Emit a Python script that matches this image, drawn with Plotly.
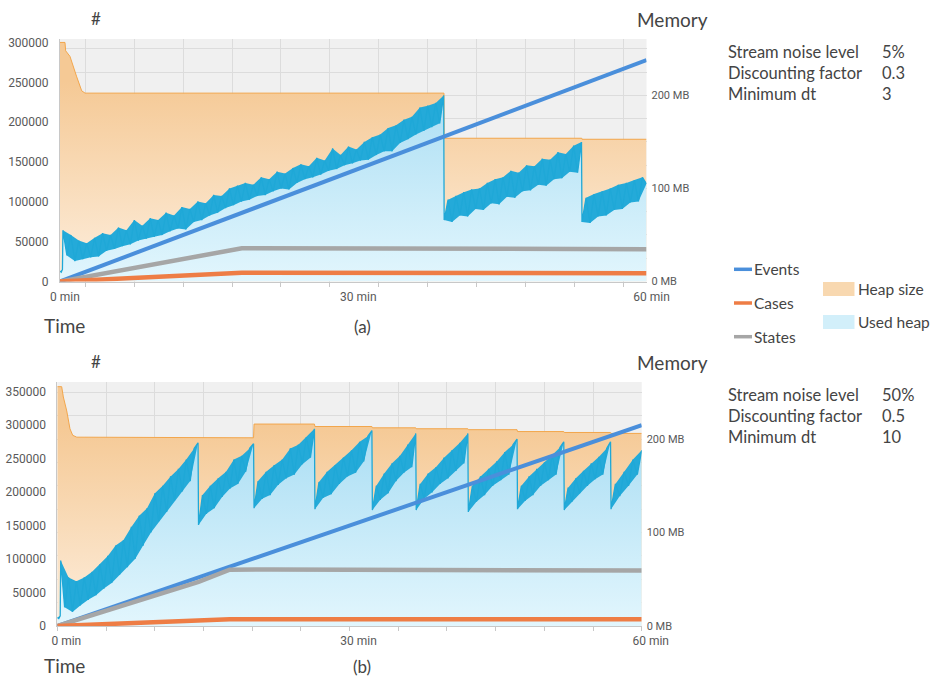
import numpy as np
import plotly.graph_objects as go

W, H = 933, 678

# ---------------- panel (a) data ----------------
a_count_t = [0, 18.6, 60]
a_states = [0, 41700, 40600]
a_cases = [0, 11000, 10300]
a_events_t = [0, 60]
a_events = [0, 278000]
a_heap_t = [0, 0.51, 0.58, 1.02, 1.71, 2.22, 2.56, 39.28, 39.3, 53.38, 53.4, 60]
a_heap_mb = [257, 257, 248, 242, 220, 205, 202.5, 202.5, 154, 154, 152.9, 152.9]
a_used_bounds = [(0, 0.25), (0.3, 39.25), (39.3, 53.35), (53.4, 60)]
a_used_mb = [
    [11, 10, 13],
    [55, 28, 50, 22, 44, 24, 41, 26, 47, 27,
     52, 33, 50, 35, 58, 38, 55, 40, 66, 44,
     60, 46, 68, 48, 66, 50, 74, 54, 71, 57,
     80, 56, 78, 64, 86, 66, 84, 71, 93, 74,
     92, 79, 100, 82, 103, 86, 106, 88, 104, 92,
     112, 93, 110, 97, 118, 100, 116, 99, 122, 106,
     126, 110, 124, 112, 133, 115, 130, 119, 143, 121,
     136, 125, 145, 127, 142, 130, 150, 131, 155, 136,
     158, 140, 165, 140, 168, 149, 174, 153, 177, 158,
     187, 162, 189, 166, 192, 170, 200],
    [66, 88, 64, 92, 71, 96, 70, 99, 78, 100, 77, 106, 84, 110, 83, 112, 91, 119,
     90, 117, 97, 125, 98, 124, 104, 132, 103, 131, 110, 139, 111, 137, 118, 146, 117, 150],
    [64, 90, 63, 94, 70, 97, 71, 100, 77, 104, 78, 106, 85, 109, 86, 112, 105],
]
a_params = [("Stream noise level", "5%"), ("Discounting factor", "0.3"), ("Minimum dt", "3")]

# ---------------- panel (b) data ----------------
b_count_t = [0, 14.5, 17.7, 22, 60]
b_states = [0, 66000, 84000, 84500, 82800]
b_cases = [0, 7500, 10000, 10000, 10000]
b_events_t = [0, 60]
b_events = [0, 300000]
b_heap_t = [0, 0.45, 0.62, 0.97, 1.3, 1.58, 2.0, 14.45, 14.5, 20.15, 20.2, 26.4, 26.45,
            32.3, 32.35, 36.8, 36.85, 42.15, 42.2, 47.2, 47.25, 52.0, 52.05, 56.8, 56.85, 60]
b_heap_mb = [256, 256, 245, 230, 211, 204, 202, 202, 201.3, 201.3, 216, 216, 213.4,
             213.4, 212, 212, 211, 211, 210, 210, 208, 208, 207, 207, 206, 206]
b_used_bounds = [(0, 0.3), (0.35, 14.45), (14.5, 20.15), (20.2, 26.4), (26.45, 32.3),
                 (32.35, 36.8), (36.85, 42.15), (42.2, 47.2), (47.25, 52.0),
                 (52.05, 56.8), (56.85, 60)]
b_used_mb = [
    [9, 8, 11],
    [70, 20, 52, 15, 48, 22, 52, 28, 58, 33, 66, 40, 75, 46, 86, 55, 92, 63,
     106, 72, 118, 86, 126, 100, 142, 112, 150, 122, 160, 134, 168, 144, 178, 155, 190, 196],
    [108, 140, 120, 150, 126, 158, 138, 165, 147, 178, 152, 182, 165, 190, 195],
    [126, 155, 136, 165, 140, 172, 151, 178, 158, 190, 162, 194, 173, 202, 180, 211],
    [125, 154, 137, 165, 141, 172, 152, 180, 160, 188, 164, 197, 176, 203, 209],
    [124, 150, 135, 163, 142, 174, 155, 182, 164, 194, 170, 206],
    [124, 152, 136, 163, 143, 170, 152, 180, 158, 188, 166, 196, 174, 206],
    [122, 150, 133, 160, 140, 168, 150, 176, 156, 186, 162, 194, 200],
    [125, 150, 134, 160, 140, 168, 150, 175, 156, 183, 162, 191, 197],
    [124, 148, 133, 158, 142, 166, 150, 174, 157, 181, 162, 190, 197],
    [125, 152, 139, 165, 150, 178, 162, 188],
]
b_params = [("Stream noise level", "50%"), ("Discounting factor", "0.5"), ("Minimum dt", "10")]

# ---------------- tick labels ----------------
time_ticks = [0, 30, 60]
time_labels = ["0 min", "30 min", "60 min"]
mem_ticks = list(range(0, 251, 25))
mem_labels = {0: "0 MB", 100: "100 MB", 200: "200 MB"}
a_count_ticks = [0, 50000, 100000, 150000, 200000, 250000, 300000]
b_count_ticks = [0, 50000, 100000, 150000, 200000, 250000, 300000, 350000]

C_EVENTS = "#4a8fdb"
C_CASES = "#ee7d45"
C_STATES = "#a6a6a6"
C_USED = "#1fa8d7"
C_BAND = "#24aad9"
C_HEAP = "#f2a64c"
TXT = "#444444"
AXTXT = "#595959"
GRID = "#dcdcdc"
AXLINE = "#c8c8c8"


def px(x):
    return x / W


def py(y):
    return 1 - y / H


fig = go.Figure()


def add_panel(xa, ya_mem, ya_cnt, heap_t, heap_mb, used_b, used_v,
              ev_t, ev, cnt_t, states, cases):
    fig.add_trace(go.Scatter(
        x=heap_t, y=heap_mb, xaxis=xa, yaxis=ya_mem, mode="lines",
        line=dict(color=C_HEAP, width=1), fill="tozeroy",
        fillgradient=dict(type="vertical", start=0, stop=215,
                          colorscale=[[0, "#fdeedd"], [1, "#f5c995"]]),
        hoverinfo="skip", showlegend=False))
    ut, uv = [], []
    for (t0, t1), seg in zip(used_b, used_v):
        ut.extend(np.linspace(t0, t1, len(seg)).tolist())
        uv.extend(seg)
    fig.add_trace(go.Scatter(
        x=ut, y=uv, xaxis=xa, yaxis=ya_mem, mode="lines",
        line=dict(color=C_USED, width=0), fill="tozeroy",
        fillgradient=dict(type="vertical", start=0, stop=200,
                          colorscale=[[0, "#e2f6fd"], [1, "#addff4"]]),
        hoverinfo="skip", showlegend=False))
    for (t0, t1), seg in zip(used_b, used_v):
        tt = np.linspace(t0, t1, len(seg))
        ev_i = list(range(0, len(seg), 2))
        od_i = list(range(1, len(seg), 2))
        bx = [tt[i] for i in ev_i] + [tt[i] for i in od_i[::-1]]
        by = [seg[i] for i in ev_i] + [seg[i] for i in od_i[::-1]]
        fig.add_trace(go.Scatter(
            x=bx, y=by, xaxis=xa, yaxis=ya_mem, mode="lines", fill="toself",
            fillcolor=C_BAND, line=dict(width=0), hoverinfo="skip", showlegend=False))
    fig.add_trace(go.Scatter(
        x=ut, y=uv, xaxis=xa, yaxis=ya_mem, mode="lines",
        line=dict(color=C_USED, width=1.3), hoverinfo="skip", showlegend=False))
    fig.add_trace(go.Scatter(x=ev_t, y=ev, xaxis=xa, yaxis=ya_cnt, mode="lines",
                             line=dict(color=C_EVENTS, width=4), showlegend=False))
    fig.add_trace(go.Scatter(x=cnt_t, y=states, xaxis=xa, yaxis=ya_cnt, mode="lines",
                             line=dict(color=C_STATES, width=4.5), showlegend=False))
    fig.add_trace(go.Scatter(x=cnt_t, y=cases, xaxis=xa, yaxis=ya_cnt, mode="lines",
                             line=dict(color=C_CASES, width=4.5), showlegend=False))


add_panel("x", "y", "y2", a_heap_t, a_heap_mb, a_used_bounds, a_used_mb,
          a_events_t, a_events, a_count_t, a_states, a_cases)
add_panel("x2", "y3", "y4", b_heap_t, b_heap_mb, b_used_bounds, b_used_mb,
          b_events_t, b_events, b_count_t, b_states, b_cases)


def xaxis_def(x0, x1, anchor, grid0, shift):
    return dict(domain=[px(x0), px(x1)], range=[0, 60], anchor=anchor, automargin=False,
                tickmode="array", tickvals=time_ticks, ticktext=time_labels,
                showgrid=False, zeroline=False, showline=True, linecolor=AXLINE,
                ticks="", tickfont=dict(family="Roboto", size=12, color=AXTXT),
                ticklabelshift=shift, ticklabelstandoff=4,
                minor=dict(tick0=grid0, dtick=5, showgrid=True, gridcolor=GRID,
                           gridwidth=1, ticks="outside", ticklen=4, tickcolor=AXLINE))


def mem_axis(y0, y1, anchor, top):
    return dict(domain=[py(y1), py(y0)], range=[0, top], anchor=anchor, side="right",
                automargin=False, tickmode="array", tickvals=mem_ticks,
                ticktext=[mem_labels.get(v, "") for v in mem_ticks],
                showgrid=True, gridcolor=GRID, gridwidth=1, zeroline=False,
                showline=False, ticks="", ticklabelstandoff=4,
                tickfont=dict(family="Roboto", size=11, color=AXTXT))


def cnt_axis(over, anchor, top, ticks):
    return dict(overlaying=over, anchor=anchor, side="left", range=[0, top],
                automargin=False, tickmode="array", tickvals=ticks,
                ticktext=[str(v) for v in ticks],
                showgrid=False, zeroline=False, showline=True, linecolor=AXLINE,
                ticks="", ticklabelstandoff=8,
                tickfont=dict(family="Roboto", size=12, color=AXTXT))


fig.update_layout(
    width=W, height=H,
    margin=dict(l=0, r=0, t=0, b=0, pad=0, autoexpand=False),
    paper_bgcolor="white", plot_bgcolor="#f0f0f0",
    xaxis=xaxis_def(60, 646.5, "y", 2.6, 5),
    yaxis=mem_axis(39, 281.5, "x", 260.7),
    yaxis2=cnt_axis("y", "x", 304400, a_count_ticks),
    xaxis2=xaxis_def(57.3, 641.7, "y3", 0, 9),
    yaxis3=mem_axis(382, 626, "x2", 261),
    yaxis4=cnt_axis("y3", "x2", 364500, b_count_ticks),
)

ann = []


def text(x, y, s, size, anchor="left", color=TXT, family="Lato"):
    ann.append(dict(x=px(x), y=py(y), xref="paper", yref="paper", text=s,
                    showarrow=False, xanchor=anchor, yanchor="middle",
                    font=dict(family=family, size=size, color=color)))


for top, params, label, lab_y in [(0, a_params, "(a)", 325), (343, b_params, "(b)", 665)]:
    text(96, 18 + top, "#", 17, "center")
    text(672, 19 + top, "Memory", 19, "center")
    text(42, lab_y, "Time", 19, "left")
    text(362, lab_y + 1, label, 17, "center")
    for i, (k, v) in enumerate(params):
        yy = 52 + top + i * 21
        text(726, yy, k, 16.5, "left")
        text(880, yy, v, 16.5, "left")

shapes = []
for yy, name, col in [(269.3, "Events", C_EVENTS), (303, "Cases", C_CASES), (336.7, "States", C_STATES)]:
    shapes.append(dict(type="line", xref="paper", yref="paper", x0=px(734), x1=px(752),
                       y0=py(yy), y1=py(yy), line=dict(color=col, width=3.5)))
    text(752, yy, name, 15.5, "left")
for y0, name, col in [(282, "Heap size", "#f8d8b0"), (315, "Used heap", "#d2effa")]:
    shapes.append(dict(type="rect", xref="paper", yref="paper", x0=px(823), x1=px(854.5),
                       y0=py(y0 + 14), y1=py(y0), line=dict(width=0), fillcolor=col))
    text(856, y0 + 7, name, 15.5, "left")

fig.update_layout(annotations=ann, shapes=shapes)
fig.write_html("out.html", config={"displayModeBar": False},
               post_script="document.body.style.margin='0';document.body.style.padding='0';")
